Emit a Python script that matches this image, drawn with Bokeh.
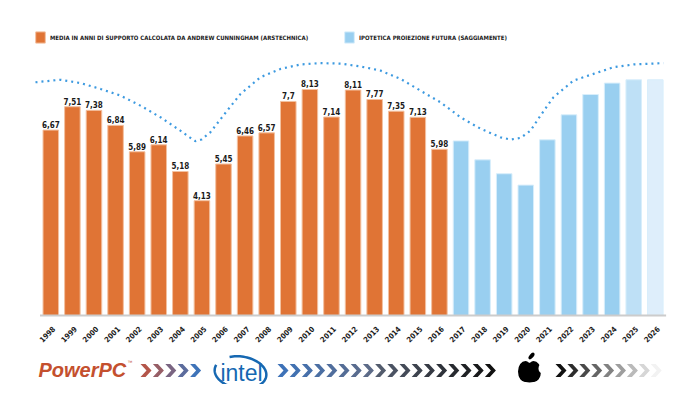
import numpy as np
from bokeh.plotting import figure
from bokeh.models import ColumnDataSource, Range1d, Legend, LegendItem
from bokeh.core.properties import value
from bokeh.embed import file_html
from bokeh.resources import INLINE

# ---------------- data ----------------
years_hist = list(range(1998, 2017))
support_hist = [6.67, 7.51, 7.38, 6.84, 5.89, 6.14, 5.18, 4.13, 5.45, 6.46,
                6.57, 7.7, 8.13, 7.14, 8.11, 7.77, 7.35, 7.13, 5.98]
years_proj = list(range(2017, 2027))
support_proj = [6.28, 5.60, 5.10, 4.69, 6.32, 7.22, 7.95, 8.36, 8.48, 8.48]
proj_colors = ["#99CFF0"] * 8 + ["#BEE0F6", "#DEEEFB"]
year_labels = [str(y) for y in years_hist + years_proj]

# dotted trend curve (year, value)
curve_year = [1997.29, 1998.45, 1999.38, 2000.30, 2001.23, 2002.15, 2003.08, 2004.00,
              2004.45, 2004.70, 2004.98, 2005.39, 2006.17, 2006.79, 2007.71, 2008.64,
              2009.57, 2010.49, 2011.42, 2012.34, 2013.27, 2014.20, 2015.12, 2016.05,
              2016.98, 2017.90, 2018.83, 2019.29, 2019.76, 2020.22, 2020.68, 2021.28,
              2022.21, 2023.13, 2024.06, 2024.99, 2026.38]
curve_val = [8.39, 8.48, 8.36, 8.15, 7.91, 7.55, 7.13, 6.65,
             6.40, 6.27, 6.33, 6.59, 7.37, 7.97, 8.57, 8.87,
             9.03, 9.08, 9.06, 8.96, 8.81, 8.51, 8.09, 7.67,
             7.13, 6.72, 6.41, 6.33, 6.39, 6.65, 7.19, 7.85,
             8.45, 8.69, 8.93, 9.03, 9.08]

legend_hist = "MEDIA IN ANNI DI SUPPORTO CALCOLATA DA ANDREW CUNNINGHAM (ARSTECHNICA)"
legend_proj = "IPOTETICA PROIEZIONE FUTURA (SAGGIAMENTE)"

def fmt(v):
    s = f"{v:.2f}".rstrip("0").rstrip(".")
    return s.replace(".", ",")

FONT = "DejaVu Sans Condensed"

# ---------------- figure ----------------
W, H = 674, 384
PXY = 27.8          # px per value unit
PXX = 21.59         # px per year
X0 = 1997.5 - 39.5 / PXX
X1 = X0 + W / PXX
Y1 = 315 / PXY
Y0 = Y1 - H / PXY
p = figure(width=W, height=H, x_range=Range1d(X0, X1), y_range=Range1d(Y0, Y1),
           output_backend="svg", toolbar_location=None, min_border=0,
           x_axis_location=None, y_axis_location=None)
p.grid.visible = False
p.outline_line_color = None
p.background_fill_color = "white"
p.border_fill_color = "white"

# screen helpers for decorations (picture px -> data)
def dx(px):
    return X0 + px / PXX

def dy(py):
    return Y1 - py / PXY

src_h = ColumnDataSource(dict(year=years_hist, top=support_hist,
                              label=[fmt(v) for v in support_hist]))
src_p = ColumnDataSource(dict(year=years_proj, top=support_proj, color=proj_colors))

r_h = p.vbar(x="year", top="top", width=0.72, source=src_h,
             fill_color="#E07435", line_color="#F3C1A0", line_width=1)
r_p = p.vbar(x="year", top="top", width=0.72, source=src_p,
             fill_color="color", line_color="#D8EEFB", line_width=1)

# baseline
all_years = years_hist + years_proj
p.segment(x0=[all_years[0] - 0.5], y0=[0], x1=[all_years[-1] + 0.5], y1=[0],
          line_color="#CCCCCC", line_width=2)

# value labels
p.text(x="year", y="top", text="label", source=src_h, y_offset=-2,
       text_align="center", text_baseline="bottom",
       text_font=value(FONT), text_font_size="8px", text_font_style="bold",
       text_color="#1a1a1a")

# year labels
p.text(x=all_years, y=[0] * len(all_years), text=year_labels,
       angle=np.pi / 4, x_offset=3, y_offset=12,
       text_align="right", text_baseline="middle",
       text_font=value(FONT), text_font_size="7.5px", text_font_style="bold",
       text_color="#1a1a1a")

# dotted curve
p.line(curve_year, curve_val, line_color="#3D9AE0", line_width=2.2, line_dash="2 4")

# legends
for txt, rend, loc in [(legend_hist, r_h, (34, 340)), (legend_proj, r_p, (343, 340))]:
    lg = Legend(items=[LegendItem(label=txt, renderers=[rend], index=0)], location=loc,
                padding=0, margin=0, border_line_color=None, background_fill_alpha=0,
                glyph_width=12, glyph_height=14, label_height=14, label_standoff=4,
                label_text_font=FONT, label_text_font_size="6px",
                label_text_font_style="bold", label_text_color="#1a1a1a",
                label_text_baseline="middle")
    p.add_layout(lg)

# ---------------- bottom logos ----------------
p.text(x=[dx(38)], y=[dy(369)], text=["PowerPC"], text_font=value("Liberation Sans"),
       text_font_style="bold italic", text_font_size="20px", text_color="#C4502E",
       text_align="left", text_baseline="middle")
p.text(x=[dx(127)], y=[dy(361)], text=["™"], text_font=value("Liberation Sans"),
       text_font_size="5px", text_color="#C4502E", text_align="left", text_baseline="middle")

def chevrons(x_start, n, pitch, colors, cy=370, w=11, h=13, t=5):
    xs, ys = [], []
    for i in range(n):
        l = x_start + i * pitch
        pts = [(l, cy - h / 2), (l + t, cy - h / 2), (l + w, cy), (l + t, cy + h / 2),
               (l, cy + h / 2), (l + w - t, cy)]
        xs.append([dx(a) for a, b in pts])
        ys.append([dy(b) for a, b in pts])
    p.patches(xs, ys, fill_color=colors, line_color=None)

def grad(c1, c2, n):
    c1 = np.array([int(c1[i:i + 2], 16) for i in (1, 3, 5)], float)
    c2 = np.array([int(c2[i:i + 2], 16) for i in (1, 3, 5)], float)
    out = []
    for k in range(n):
        f = k / max(n - 1, 1)
        c = c1 + (c2 - c1) * f
        out.append("#%02x%02x%02x" % tuple(int(round(v)) for v in c))
    return out

chevrons(140, 5, 12.4, grad("#B4564A", "#3F74B9", 5))
g2 = grad("#3E72B8", "#5D6B88", 8) + grad("#5A6477", "#111111", 11)[1:]
chevrons(277, len(g2), 12.2, g2)
chevrons(555, 9, 11.9, grad("#111111", "#F2F2F2", 9))

# intel
p.text(x=[dx(241)], y=[dy(372)], text=["intel"], text_font=value("Liberation Sans"),
       text_font_size="23px", text_color="#1668B2", text_align="center",
       text_baseline="middle")
th = np.radians(np.linspace(165, 480, 80))
tilt = np.radians(-8)
ex, ey = 26 * np.cos(th), 16 * np.sin(th)
sxp = 240 + ex * np.cos(tilt) - ey * np.sin(tilt)
syp = 372 - (ex * np.sin(tilt) + ey * np.cos(tilt))
p.line([dx(v) for v in sxp], [dy(v) for v in syp], line_color="#1668B2", line_width=2.5)

# apple
p.ellipse(x=[dx(525), dx(533)], y=[dy(371), dy(371)], width=15, height=21,
          width_units="screen", height_units="screen", fill_color="black", line_color=None)
p.ellipse(x=[dx(529)], y=[dy(376)], width=20, height=12,
          width_units="screen", height_units="screen", fill_color="black", line_color=None)
p.ellipse(x=[dx(542)], y=[dy(368)], width=8, height=10,
          width_units="screen", height_units="screen", fill_color="white", line_color=None)
p.ellipse(x=[dx(529)], y=[dy(360.5)], width=4, height=3,
          width_units="screen", height_units="screen", fill_color="white", line_color=None)
p.ellipse(x=[dx(531)], y=[dy(355.5)], width=4, height=8, angle=-0.7,
          width_units="screen", height_units="screen", fill_color="black", line_color=None)

open("out.html", "w").write(file_html(p, INLINE))
